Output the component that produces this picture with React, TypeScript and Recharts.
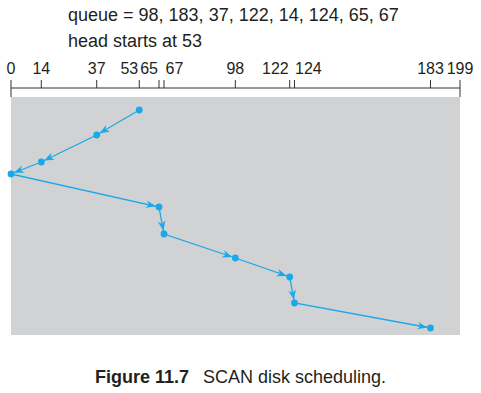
import React from 'react';
import { ComposedChart, XAxis, YAxis, Line, ReferenceArea, ReferenceLine } from 'recharts';

const cylinders = [53, 37, 14, 0, 65, 67, 98, 122, 124, 183];
const times = [22, 47, 74, 86, 119, 146, 170, 189, 215, 240];
const tickValues = [0, 14, 37, 53, 65, 67, 98, 122, 124, 183, 199];
const queueText = 'queue = 98, 183, 37, 122, 14, 124, 65, 67';
const headText = 'head starts at 53';
const captionBold = 'Figure 11.7';
const captionText = 'SCAN disk scheduling.';

// The printed figure's cylinder axis is not strictly linear: calibration of
// where each labelled cylinder sits along the axis (fraction of axis length).
const axisCalibration = [0, 0.0675, 0.1909, 0.2857, 0.3296, 0.3408, 0.4996, 0.6207, 0.6314, 0.9343, 1];

const data = cylinders.map((c, i) => ({ cyl: c, t: times[i] }));
const segments = cylinders.slice(1).map((c, i) => [
  { x: cylinders[i], y: times[i] },
  { x: c, y: times[i + 1] },
]);

const BLUE = '#1ba8e8';
const FONT = '"Liberation Sans", Arial, Helvetica, sans-serif';
const TEXT = '#231f20';

function makeScale(dom: number[] = [0, 199], rng: number[] = [0, 1]): any {
  let d = dom.slice();
  let r = rng.slice();
  const frac = (v: number) => {
    const xs = tickValues;
    const fs = axisCalibration;
    if (v <= xs[0]) return fs[0];
    for (let i = 1; i < xs.length; i++) {
      if (v <= xs[i]) {
        const t = (v - xs[i - 1]) / (xs[i] - xs[i - 1]);
        return fs[i - 1] + t * (fs[i] - fs[i - 1]);
      }
    }
    return fs[fs.length - 1];
  };
  const s: any = (v: number) => r[0] + frac(v) * (r[1] - r[0]);
  s.domain = (nd?: number[]) => {
    if (nd === undefined) return d.slice();
    d = nd.slice();
    return s;
  };
  s.range = (nr?: number[]) => {
    if (nr === undefined) return r.slice();
    r = nr.slice();
    return s;
  };
  s.copy = () => makeScale(d, r);
  s.ticks = () => tickValues.slice();
  s.tickFormat = () => (v: any) => String(v);
  s.nice = () => s;
  s.clamp = () => s;
  s.invert = (p: number) => d[0] + ((p - r[0]) / (r[1] - r[0])) * (d[1] - d[0]);
  return s;
}

const cylinderScale = makeScale();

const anchorFor: Record<number, [string, number]> = {
  53: ['end', -1],
  65: ['end', -1],
  67: ['start', 1.5],
  122: ['end', -1],
  124: ['start', 0.5],
};

const AxisTick = (props: any) => {
  const { x, y, payload } = props;
  const a = anchorFor[payload.value] || ['middle', 0];
  return (
    <text x={x + a[1]} y={y} textAnchor={a[0]} fill={TEXT} fontSize={16} fontFamily={FONT}>
      {payload.value}
    </text>
  );
};

const ArrowHead = (props: any) => {
  const { x1, y1, x2, y2 } = props;
  const dx = x2 - x1;
  const dy = y2 - y1;
  const len = Math.sqrt(dx * dx + dy * dy) || 1;
  const ux = dx / len;
  const uy = dy / len;
  const px = -uy;
  const py = ux;
  const tx = x2 - ux * 3.2;
  const ty = y2 - uy * 3.2;
  const L = 10;
  const W = 3.8;
  const N = 7;
  const d = `M${tx},${ty} L${tx - ux * L + px * W},${ty - uy * L + py * W} L${tx - ux * N},${ty - uy * N} L${tx - ux * L - px * W},${ty - uy * L - py * W} Z`;
  return <path d={d} fill={BLUE} stroke="none" />;
};

export default function App() {
  return (
    <div style={{ position: 'absolute', left: 0, top: 0, width: 481, height: 393, background: '#fff', fontFamily: FONT }}>
      <div style={{ position: 'absolute', left: 68, top: 6, fontSize: 18, lineHeight: '18px', color: TEXT, whiteSpace: 'nowrap' }}>{queueText}</div>
      <div style={{ position: 'absolute', left: 68, top: 31.7, fontSize: 18, lineHeight: '18px', color: TEXT, whiteSpace: 'nowrap' }}>{headText}</div>
      <ComposedChart width={481} height={393} data={data} margin={{ top: 58, right: 21, bottom: 58, left: 11 }}>
        <XAxis
          dataKey="cyl"
          type="number"
          orientation="top"
          domain={[0, 199]}
          scale={cylinderScale}
          ticks={tickValues}
          interval={0}
          height={30}
          tickSize={8}
          tickMargin={6}
          axisLine={{ stroke: '#333', strokeWidth: 1 }}
          tickLine={{ stroke: '#333', strokeWidth: 1 }}
          tick={<AxisTick />}
        />
        <YAxis type="number" dataKey="t" domain={[0, 247]} reversed hide />
        <ReferenceArea x1={0} x2={199} y1={9} y2={247} fill="#d1d2d4" fillOpacity={1} stroke="none" />
        <ReferenceLine segment={[{ x: 0, y: 0 }, { x: 0, y: 9 }]} stroke="#333" strokeWidth={1} />
        <ReferenceLine segment={[{ x: 199, y: 0 }, { x: 199, y: 9 }]} stroke="#333" strokeWidth={1} />
        <Line
          type="linear"
          dataKey="t"
          stroke={BLUE}
          strokeWidth={1.3}
          dot={{ r: 3.4, fill: BLUE, stroke: 'none' }}
          activeDot={false}
          isAnimationActive={false}
        />
        {segments.map((seg, i) => (
          <ReferenceLine key={i} segment={seg} shape={ArrowHead} />
        ))}
      </ComposedChart>
      <div style={{ position: 'absolute', left: 0, width: 481, top: 368, textAlign: 'center', fontSize: 18, lineHeight: '18px', color: TEXT, whiteSpace: 'nowrap' }}>
        <b>{captionBold}</b>
        <span style={{ marginLeft: 14 }}>{captionText}</span>
      </div>
    </div>
  );
}
